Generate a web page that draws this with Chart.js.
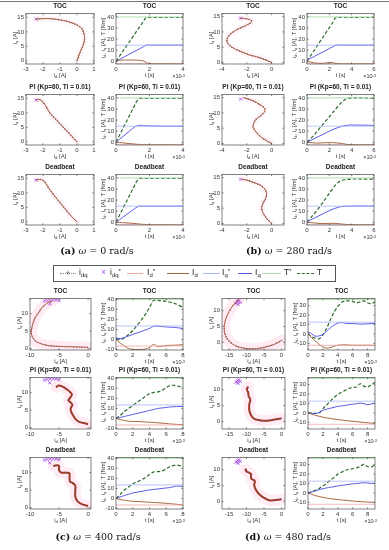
<!DOCTYPE html>
<html><head><meta charset="utf-8">
<script src="https://cdn.jsdelivr.net/npm/chart.js@4.4.1/dist/chart.umd.min.js"></script>
<style>
body{margin:0;width:389px;height:550px;background:#fff;position:relative;overflow:hidden;font-family:"Liberation Sans",Arial,sans-serif;}
.abs{position:absolute;white-space:nowrap;line-height:1;}
.ttl{font-weight:bold;font-size:6.5px;color:#222;transform:translateX(-50%);}
.xl{font-size:6px;color:#333;transform:translateX(-50%);}
.yl{font-size:6px;color:#333;transform:translate(-50%,-50%) rotate(-90deg);}
.ex{font-size:5.5px;color:#333;transform:translateX(-100%);}
.cap{font-family:"DejaVu Serif","Liberation Serif",serif;font-size:9.5px;color:#111;transform:translateX(-50%);}
.lg{font-size:8.5px;color:#222;}
sub{font-size:70%;vertical-align:-0.35em;line-height:0;}
sup{font-size:70%;vertical-align:0.3em;line-height:0;}
</style></head>
<body>
<script>
// ===== (a) omega = 0 rad/s =====
const a_TOC_id = [0, 0.15, 0.3, 0.42, 0.45, 0.4, 0.3, 0.1, -0.25, -0.7, -1.2, -1.7, -2.2, -2.4];
const a_TOC_iq = [0, 2.5, 4.5, 6.5, 8, 9.5, 11, 12, 13, 13.8, 14.3, 14.6, 14.5, 14.4];
const a_TOC_t  = [0, 0.2, 0.5, 0.8, 1.1, 1.4, 1.65, 1.8, 2, 3, 4];
const a_TOC_T  = [0, 4.4, 11, 17.6, 24.2, 30.8, 36.3, 39.5, 39.5, 39.5, 39.5];
const a_TOC_Iq = [0, 1.6, 4, 6.4, 8.8, 11.2, 13.2, 14.5, 14.5, 14.5, 14.5];
const a_TOC_Id = [0, 0.8, 1.1, 1.1, 1.0, 0.8, 0.2, -1.2, -2.2, -2.4, -2.4];
const a_PI_id  = [0, -0.4, -0.8, -1.2, -1.6, -1.85, -2.1, -2.3, -2.4];
const a_PI_iq  = [0, 2.5, 5, 7.5, 10, 12.5, 14.3, 14.7, 14.5];
const a_PI_t   = [0, 0.2, 0.4, 0.6, 0.8, 1.0, 1.2, 1.4, 1.6, 2, 3, 4];
const a_PI_T   = [0, 6, 12, 18, 24, 30, 36, 39.5, 39.5, 39.5, 39.5, 39.5];
const a_PI_Iq  = [0, 2.5, 5, 7.5, 10, 12.5, 14.5, 15.3, 15, 14.7, 14.5, 14.5];
const a_PI_Id  = [0, -0.3, -0.6, -0.9, -1.2, -1.5, -1.8, -2, -2.2, -2.35, -2.4, -2.4];
const a_DB_id  = [0, -0.35, -0.7, -1.05, -1.4, -1.7, -1.9, -2.1, -2.4];
const a_DB_iq  = [0, 2, 4.5, 7, 9.5, 12, 13.8, 14.6, 14.5];
const a_DB_t   = [0, 0.2, 0.4, 0.6, 0.8, 1.0, 1.2, 1.4, 1.6, 2, 3, 4];
const a_DB_T   = [0, 6, 12, 18, 24, 30, 36, 39.5, 39.5, 39.5, 39.5, 39.5];
const a_DB_Iq  = [0, 2.2, 4.4, 6.6, 8.8, 11, 13.2, 14.5, 14.5, 14.5, 14.5, 14.5];
const a_DB_Id  = [0, -0.2, -0.4, -0.6, -0.8, -1.0, -1.3, -1.6, -1.9, -2.2, -2.4, -2.4];
const a_refId = [-2.4], a_refIq = [14.4];
const a_IdRef = -2.4, a_IqRef = 14.5, a_TRef = 40;

// ===== (b) omega = 280 rad/s =====
const b_TOC_id = [0, -0.9, -1.8, -2.6, -3.2, -3.55, -3.6, -3.4, -2.9, -2.3, -1.8, -1.6, -1.8, -2.2, -2.5];
const b_TOC_iq = [0, 1.5, 2.5, 3.8, 5, 6.3, 7.5, 9, 10.5, 11.7, 12.7, 13.5, 14.1, 14.4, 14.5];
const b_TOC_t  = [0, 0.3, 0.6, 1, 1.5, 2, 2.3, 2.6, 3, 4, 5, 6];
const b_TOC_T  = [0, 4.6, 9.1, 15.2, 22.8, 30.4, 35, 39.5, 39.5, 39.5, 39.5, 39.5];
const b_TOC_Iq = [1, 2.6, 4.1, 6.2, 8.8, 11.4, 13, 14.5, 14.5, 14.5, 14.5, 14.5];
const b_TOC_Id = [0, -0.8, -1.4, -1.8, -1.9, -1.0, -1.3, -2.0, -2.4, -2.4, -2.4, -2.4];
const b_PI_id  = [0, -0.8, -1.3, -1.5, -1.3, -0.9, -0.6, -0.55, -0.9, -1.5, -2.0, -2.3];
const b_PI_iq  = [0, 1.9, 4, 5.6, 7.7, 9, 10.2, 11.4, 12.6, 14, 14.7, 15];
const b_PI_t   = [0, 0.5, 1, 1.5, 2, 2.5, 3, 3.5, 4, 5, 6];
const b_PI_T   = [0, 5, 11, 17, 23, 29, 35, 39, 40, 40, 39.5];
const b_PI_Iq  = [0, 2.5, 5, 7.5, 10, 12.2, 14, 15.2, 15.5, 15.4, 15.2];
const b_PI_Id  = [0, -0.5, -0.8, -0.5, -0.3, -0.5, -1, -1.8, -2.2, -2.4, -2.4];
const b_DB_id  = [0, -0.3, -0.55, -0.75, -0.8, -0.7, -0.5, -0.4, -0.5, -0.9, -1.5, -2.0, -2.4];
const b_DB_iq  = [0, 1.2, 2.5, 4, 5.2, 6.5, 8, 9.5, 11, 12.5, 13.5, 14.2, 14.5];
const b_DB_t   = [0, 0.5, 1, 1.5, 2, 2.5, 3, 3.5, 4, 5, 6];
const b_DB_T   = [0, 6, 12, 19, 26, 33, 37.5, 38.5, 39, 39, 39];
const b_DB_Iq  = [0.5, 3, 5.5, 8, 10.5, 12.5, 14, 14.5, 14.6, 14.6, 14.6];
const b_DB_Id  = [0, -0.5, -1, -1.2, -1, -1, -1.5, -2, -2.2, -2.4, -2.4];
const b_refId = [-2.5], b_refIq = [14.5];
const b_IdRef = -2.5, b_IqRef = 14.5, b_TRef = 40;

// ===== (c) omega = 400 rad/s =====
const c_TOC_id = [0, -1.56, -3.24, -4.9, -6.6, -8, -9.1, -9.65, -9.8, -9.5, -9.1, -8.5, -8, -7.4, -6.9, -6.1];
const c_TOC_iq = [0.36, 0.45, 0.54, 0.63, 0.8, 1.34, 2.2, 3.6, 4.9, 7.1, 8.9, 10.3, 11.6, 12.5, 13.2, 13.6];
const c_TOC_t  = [0, 0.5, 1, 1.5, 2, 2.5, 3, 3.5, 4, 4.5, 5, 6, 7, 8];
const c_TOC_T  = [1, 0, 1.5, 5, 9, 14, 19, 25, 32, 39, 39, 38, 36, 32];
const c_TOC_Iq = [1.5, 1, 2, 3.5, 5, 6.5, 8, 9.5, 11, 13.3, 13.3, 12.5, 12, 11];
const c_TOC_Id = [0, -3.5, -6.5, -9, -10, -10, -10, -9.5, -8, -5, -7, -6, -5.7, -5.3];
const c_PI_id  = [0, -0.8, -1.7, -2.2, -2.6, -2.9, -3, -2.7, -3, -3.4, -3.1, -2.8, -3.3, -3.9, -4.5, -5.2, -5.5];
const c_PI_iq  = [1, 1.3, 1.8, 2.5, 3.5, 4.5, 5.5, 6.5, 7.2, 7.8, 8.5, 9.5, 10.5, 11.2, 11.8, 12, 11.5];
const c_PI_t   = [0, 0.5, 1, 1.5, 2, 2.5, 3, 3.5, 4, 4.5, 5, 5.5, 6, 6.5, 7, 7.5, 8];
const c_PI_T   = [0, 3, 7, 10, 13, 16, 19, 22, 25, 26, 26.5, 28, 31, 33, 33, 32, 31.5];
const c_PI_Iq  = [0, 1, 2, 3, 4, 5, 6, 7, 8, 9, 10, 10.5, 11, 11.5, 11.8, 12, 12];
const c_PI_Id  = [0, -1, -2, -2.7, -3, -3, -3.2, -3.5, -3.7, -4, -4.3, -4.7, -5, -5.5, -5.8, -6, -6.2];
const c_DB_id  = [0, -1, -1.8, -2.2, -2.2, -2.2, -2.7, -3.1, -3.2, -3.2, -3.8, -4.6, -5, -5, -5.4, -6];
const c_DB_iq  = [0.45, 0.9, 1.8, 3.1, 4.9, 6.25, 7.1, 7.4, 8.5, 9.8, 10, 10, 10.7, 11.9, 12.1, 11.9];
const c_DB_t   = [0, 0.5, 1, 1.5, 2, 2.5, 3, 3.5, 4, 4.5, 5, 5.5, 6, 6.5, 7, 7.5, 8];
const c_DB_T   = [0, 4, 8.5, 11.5, 14.5, 16.5, 18.5, 21, 24, 26.5, 26.8, 27.5, 29.5, 32, 33, 33, 32];
const c_DB_Iq  = [0, 1.5, 3, 4.2, 5.5, 6.3, 7, 7.8, 8.5, 9, 9.5, 10, 10.5, 11, 12, 12.5, 11.8];
const c_DB_Id  = [0, -1, -1.8, -2.3, -2.8, -3, -3.2, -3.5, -3.8, -4, -4.2, -4.5, -4.8, -5.2, -5.6, -6, -6.5];
const c_refId = [-7.5, -7, -6.5, -6, -5.5, -5, -6.6], c_refIq = [13.6, 13.8, 13.9, 14, 13.9, 13.7, 12.8];
const c_IdRef = -6.5, c_IqRef = 13.5, c_TRef = 40;

// ===== (d) omega = 480 rad/s =====
const d_TOC_id = [0.2, -2.25, -4.7, -7.2, -9.6, -12.1, -14, -15.5, -16.3, -16.3, -15.8, -15, -14, -12.8, -12.1];
const d_TOC_iq = [0.7, -0.7, -1.5, -2, -2, -1.5, -0.5, 1.1, 3.3, 5.7, 7.7, 9.7, 11.4, 13, 13.6];
const d_TOC_t  = [0, 0.5, 1, 1.5, 2, 2.5, 3, 3.5, 4, 4.5, 5, 5.5, 6, 6.5, 7, 7.5, 8, 8.5, 9];
const d_TOC_T  = [0, -3, -4.5, -5, -1, 6, 15, 23, 29, 33.5, 35, 35, 34.5, 33, 34, 35, 33, 32, 34];
const d_TOC_Iq = [2.5, 0, -2.4, -2, -0.5, 3, 6.5, 9.5, 11.5, 12, 11.5, 11, 11, 10.8, 10.5, 10.5, 10.8, 11, 11.2];
const d_TOC_Id = [0, -4, -7.5, -11, -13.8, -15, -14.5, -13, -12, -11.5, -11.5, -11.8, -12, -12, -12, -12, -12, -12, -12];
const d_PI_id  = [0, -2, -4.2, -6, -7.8, -8.7, -9.2, -9.2, -8.9, -9.4, -9.5, -9.9, -9.5];
const d_PI_iq  = [0.95, 0.57, 0.2, 0.3, 0.76, 1.9, 3.5, 5.4, 6.9, 8, 9, 10.2, 10.9];
const d_PI_t   = [0, 0.5, 1, 1.5, 2, 2.5, 3, 3.5, 4, 4.5, 5, 5.5, 6, 6.5, 7, 7.5, 8, 8.5, 9];
const d_PI_T   = [0, 0, -0.5, 0, 4.6, 8.5, 12.5, 16.5, 19.5, 22, 24, 26, 27, 27.5, 31, 28.5, 27.5, 30, 32.6];
const d_PI_Iq  = [0, -0.5, -0.7, 0.5, 2.8, 4, 5, 6, 7, 7.5, 8, 8.8, 9.3, 9.8, 10.5, 9.8, 8.8, 9.5, 10.5];
const d_PI_Id  = [0, -1.3, -2.5, -3.5, -4.5, -5.2, -5.8, -6.5, -7, -7.5, -8, -8.4, -8.8, -9.2, -9.6, -10, -10.4, -10.8, -11.2];
const d_DB_id  = [0, -3.3, -5.1, -6.5, -7.4, -7.8, -7.6, -8.3, -8.7, -8.7, -9.2, -9.6, -10.1, -10.1, -10.5];
const d_DB_iq  = [0.67, 0.3, 1.2, 2.4, 3.8, 5.2, 6.4, 6.9, 7.3, 8.6, 9, 9.2, 9.5, 10, 10];
const d_DB_t   = [0, 0.5, 1, 1.5, 2, 2.5, 3, 3.5, 4, 4.5, 5, 5.5, 6, 6.5, 7, 7.5, 8, 8.5, 9];
const d_DB_T   = [0, 1.3, 3, 4.8, 7.5, 10.3, 13.5, 16.5, 20, 22, 24, 25, 25.7, 26.5, 28, 30.4, 28, 27.5, 30.4];
const d_DB_Iq  = [0, 1, 2.2, 3.5, 4.5, 5.3, 6, 6.7, 7.5, 8, 8.5, 9.2, 9.7, 10, 10.5, 10.8, 10.6, 10.2, 10.3];
const d_DB_Id  = [0, -1.5, -2.8, -3.8, -4.7, -5.4, -6, -6.5, -7, -7.4, -7.8, -8.2, -8.6, -8.9, -9.2, -9.4, -9.6, -9.8, -10];
const d_refId = [-13, -12.6, -12.2, -11.8, -12.4], d_refIq = [12.3, 12.8, 13.1, 12.6, 12.0];
const d_IdRef = -12, d_IqRef = 12.5, d_TRef = 36.5;

// ===== axis ticks =====
const aL_xTicks = [-3, -2, -1, 0, 1], aL_yTicks = [0, 5, 10, 15];
const bL_xTicks = [-4, -2, 0], bL_yTicks = [0, 5, 10, 15];
const cL_xTicks = [-10, -5, 0], cL_yTicks = [0, 5, 10];
const dL_xTicks = [-15, -10, -5, 0], dL_yTicks = [0, 5, 10];
const aR_xTicks = [0, 2, 4], abR_yTicks = [0, 10, 20, 30, 40];
const bR_xTicks = [0, 2, 4, 6];
const cdR_xTicks = [0, 2, 4, 6, 8];
const cR_yTicks = [-10, 0, 10, 20, 30, 40], dR_yTicks = [-10, 0, 10, 20, 30];
const controllers = ['TOC', 'PI (Kp=60, Ti = 0.01)', 'Deadbeat'];
const captions = [['(a)', '0'], ['(b)', '280'], ['(c)', '400'], ['(d)', '480']];

// ===== drawing =====
const FONT = '"Liberation Sans", Arial, sans-serif';
const C = {Id:'#a8643f', IdRef:'#f3a7a7', Iq:'#5656e6', IqRef:'#a9b8f7', T:'#2f6b2f', TRef:'#a6dca6', ref:'#a64ee6'};
const Lw = 14, Rw = 6, Tp = 3, Bh = 10;

const boxPlugin = {id:'box', afterDraw(ch){
  const {ctx, chartArea:a, scales} = ch;
  ctx.save(); ctx.strokeStyle = '#4a4a4a'; ctx.lineWidth = 0.7;
  ctx.strokeRect(a.left, a.top, a.right - a.left, a.bottom - a.top);
  ctx.beginPath();
  scales.x.ticks.forEach(t => { const p = scales.x.getPixelForValue(t.value);
    ctx.moveTo(p, a.bottom); ctx.lineTo(p, a.bottom - 1.6); ctx.moveTo(p, a.top); ctx.lineTo(p, a.top + 1.6); });
  scales.y.ticks.forEach(t => { const p = scales.y.getPixelForValue(t.value);
    ctx.moveTo(a.left, p); ctx.lineTo(a.left + 1.6, p); ctx.moveTo(a.right, p); ctx.lineTo(a.right - 1.6, p); });
  ctx.stroke(); ctx.restore();
}};

function axis(min, max, ticks, dir){
  return {type:'linear', min, max,
    grid:{display:false, drawTicks:false}, border:{display:false},
    ticks:{font:{size:6, family:FONT}, color:'#333', padding:2, autoSkip:false, maxRotation:0, minRotation:0, callback:v => String(v)},
    afterBuildTicks: s => { s.ticks = ticks.map(v => ({value:v})); },
    afterFit: s => { if (dir === 'x') s.height = Bh; else s.width = Lw; }};
}
function pts(xs, ys){ return xs.map((v, i) => ({x:v, y:ys[i]})); }
function addDiv(html, x, y, cls){
  const d = document.createElement('div'); d.className = 'abs ' + cls; d.innerHTML = html;
  d.style.left = x + 'px'; d.style.top = y + 'px'; document.body.appendChild(d); return d;
}
function mkCanvas(box){
  const c = document.createElement('canvas');
  c.width = box.w + Lw + Rw; c.height = box.h + Tp + Bh;
  c.style.cssText = `position:absolute;left:${box.x - Lw}px;top:${box.y - Tp}px;width:${c.width}px;height:${c.height}px`;
  document.body.appendChild(c); return c;
}
function baseOpts(xs, ys){
  return {responsive:false, animation:false, devicePixelRatio:1,
    layout:{padding:{left:0, right:Rw, top:Tp, bottom:0}},
    plugins:{legend:{display:false}, tooltip:{enabled:false}},
    elements:{point:{radius:0}, line:{tension:0.3}},
    scales:{x:axis(xs[0], xs[1], xs[2], 'x'), y:axis(ys[0], ys[1], ys[2], 'y')}};
}
function leftPlot(box, s, heavy, strongHalo){
  const tr = pts(s.id, s.iq);
  new Chart(mkCanvas(box), {type:'scatter', data:{datasets:[
    {data:tr, showLine:true, borderColor:strongHalo ? 'rgba(255,110,170,0.14)' : 'rgba(255,120,170,0.07)', borderWidth:strongHalo ? 11 : 6, borderCapStyle:'round', tension:0.3},
    {data:tr, showLine:true, borderColor:heavy ? '#8a3518' : C.Id, borderWidth:heavy ? 2 : 1, tension:0.3},
    {data:tr, showLine:true, borderColor:'#111', borderWidth:1.1, borderDash:[1, 1.8], tension:0.3},
    {data:pts(s.refId, s.refIq), showLine:false, pointStyle:'crossRot', pointRadius:2.2, borderColor:C.ref, borderWidth:0.9}
  ]}, options:baseOpts(s.lx, s.ly), plugins:[boxPlugin]});
  const cx = box.x + box.w / 2;
  addDiv('i<sub>d</sub> [A]', cx, box.y + box.h + 8, 'xl');
  addDiv('i<sub>q</sub> [A]', box.x - 11.5, box.y + box.h / 2, 'yl');
}
function rightPlot(box, s){
  const x0 = s.rx[0], x1 = s.rx[1];
  const hl = v => [{x:x0, y:v}, {x:x1, y:v}];
  new Chart(mkCanvas(box), {type:'scatter', data:{datasets:[
    {data:hl(s.IdRef), showLine:true, borderColor:C.IdRef, borderWidth:0.8, tension:0},
    {data:hl(s.IqRef), showLine:true, borderColor:C.IqRef, borderWidth:0.8, tension:0},
    {data:hl(s.TRef), showLine:true, borderColor:C.TRef, borderWidth:0.9, tension:0},
    {data:pts(s.t, s.Id), showLine:true, borderColor:C.Id, borderWidth:1, tension:0.3},
    {data:pts(s.t, s.Iq), showLine:true, borderColor:C.Iq, borderWidth:1, tension:0.3},
    {data:pts(s.t, s.T), showLine:true, borderColor:C.T, borderWidth:1.2, borderDash:[3.5, 2], tension:0.3}
  ]}, options:baseOpts(s.rx, s.ry), plugins:[boxPlugin]});
  const cx = box.x + box.w / 2;
  addDiv('t [s]', cx, box.y + box.h + 8, 'xl');
  addDiv('&times;10<sup>-3</sup>', box.x + box.w + 2, box.y + box.h + 9.5, 'ex');
  addDiv('i<sub>d</sub>, i<sub>q</sub> [A], T [Nm]', box.x - 13.5, box.y + box.h / 2, 'yl');
}

const panels = [
  {L:{x:26, w:68}, R:{x:116, w:67}, tops:[11, 92, 172], h:53, heavy:false, capY:246, capX:97,
   lx:[-3, 1, aL_xTicks], ly:[-1.1, 16.3, aL_yTicks], rx:[0, 4, aR_xTicks], ry:[-2.5, 43, abR_yTicks],
   refId:a_refId, refIq:a_refIq, IdRef:a_IdRef, IqRef:a_IqRef, TRef:a_TRef,
   rows:[[a_TOC_id, a_TOC_iq, a_TOC_t, a_TOC_Id, a_TOC_Iq, a_TOC_T],
         [a_PI_id, a_PI_iq, a_PI_t, a_PI_Id, a_PI_Iq, a_PI_T],
         [a_DB_id, a_DB_iq, a_DB_t, a_DB_Id, a_DB_Iq, a_DB_T]]},
  {L:{x:222, w:62}, R:{x:307, w:67}, tops:[11, 92, 172], h:53, heavy:false, capY:246, capX:289,
   lx:[-4, 1, bL_xTicks], ly:[-0.5, 16, bL_yTicks], rx:[0, 6, bR_xTicks], ry:[-2.5, 43, abR_yTicks],
   refId:b_refId, refIq:b_refIq, IdRef:b_IdRef, IqRef:b_IqRef, TRef:b_TRef,
   rows:[[b_TOC_id, b_TOC_iq, b_TOC_t, b_TOC_Id, b_TOC_Iq, b_TOC_T],
         [b_PI_id, b_PI_iq, b_PI_t, b_PI_Id, b_PI_Iq, b_PI_T],
         [b_DB_id, b_DB_iq, b_DB_t, b_DB_Id, b_DB_Iq, b_DB_T]]},
  {L:{x:30, w:61}, R:{x:116, w:67}, tops:[296, 375, 455], h:54, heavy:true, capY:532, capX:98,
   lx:[-10, 0.5, cL_xTicks], ly:[-0.4, 14.3, cL_yTicks], rx:[0, 8, cdR_xTicks], ry:[-10.5, 40.8, cR_yTicks],
   refId:c_refId, refIq:c_refIq, IdRef:c_IdRef, IqRef:c_IqRef, TRef:c_TRef,
   rows:[[c_TOC_id, c_TOC_iq, c_TOC_t, c_TOC_Id, c_TOC_Iq, c_TOC_T],
         [c_PI_id, c_PI_iq, c_PI_t, c_PI_Id, c_PI_Iq, c_PI_T],
         [c_DB_id, c_DB_iq, c_DB_t, c_DB_Id, c_DB_Iq, c_DB_T]]},
  {L:{x:222, w:63}, R:{x:308, w:67}, tops:[296, 375, 455], h:54, heavy:true, capY:532, capX:288,
   lx:[-17, 1, dL_xTicks], ly:[-2.4, 13.8, dL_yTicks], rx:[0, 9, cdR_xTicks], ry:[-17, 37.5, dR_yTicks],
   refId:d_refId, refIq:d_refIq, IdRef:d_IdRef, IqRef:d_IqRef, TRef:d_TRef,
   rows:[[d_TOC_id, d_TOC_iq, d_TOC_t, d_TOC_Id, d_TOC_Iq, d_TOC_T],
         [d_PI_id, d_PI_iq, d_PI_t, d_PI_Id, d_PI_Iq, d_PI_T],
         [d_DB_id, d_DB_iq, d_DB_t, d_DB_Id, d_DB_Iq, d_DB_T]]}
];

// top rule
addDiv('', 0, 0.5, '').style.cssText += 'width:389px;height:1.6px;background:#777;';

panels.forEach((p, pi) => {
  p.rows.forEach((r, ri) => {
    const y = p.tops[ri];
    const lb = {x:p.L.x, y, w:p.L.w, h:p.h}, rb = {x:p.R.x, y, w:p.R.w, h:p.h};
    leftPlot(lb, {id:r[0], iq:r[1], refId:p.refId, refIq:p.refIq, lx:p.lx, ly:p.ly}, p.heavy && ri > 0, p.heavy);
    rightPlot(rb, {t:r[2], Id:r[3], Iq:r[4], T:r[5], IdRef:p.IdRef, IqRef:p.IqRef, TRef:p.TRef, rx:p.rx, ry:p.ry});
    addDiv(controllers[ri], lb.x + lb.w / 2, y - 8.5, 'ttl');
    addDiv(controllers[ri], rb.x + rb.w / 2, y - 8.5, 'ttl');
  });
  addDiv(`<b>${captions[pi][0]}</b> <i>ω</i> = ${captions[pi][1]} rad/s`, p.capX, p.capY, 'cap');
});

// legend
const lgBox = addDiv('', 53, 264.5, '');
lgBox.style.cssText += 'width:283px;height:17px;border:0.8px solid #555;box-sizing:border-box;';
function lgLine(x1, x2, style){ const d = addDiv('', x1, 273, ''); d.style.cssText += `width:${x2 - x1}px;height:0;border-top:${style};`; return d; }
function lgText(html, x){ const d = addDiv(html, x, 268, 'lg'); return d; }
lgLine(60, 76, '1px dotted #888'); addDiv('+', 65.5, 268.5, 'lg').style.color = '#666';
lgText('i<sub>dq</sub>', 79);
addDiv('&times;', 101, 267.5, 'lg').style.color = C.ref;
lgText('i<sub>dq</sub><sup>*</sup>', 110);
lgLine(127, 143, '1px solid ' + C.IdRef); lgText('I<sub>d</sub><sup>*</sup>', 147);
lgLine(167, 189, '1.2px solid ' + C.Id); lgText('I<sub>d</sub>', 192);
lgLine(203, 220, '1px solid ' + C.IqRef); lgText('I<sub>q</sub><sup>*</sup>', 222);
lgLine(238, 252, '1.2px solid ' + C.Iq); lgText('I<sub>q</sub>', 255);
lgLine(262, 281, '1px solid ' + C.TRef); lgText('T<sup>*</sup>', 284);
lgLine(297, 314, '1.4px dashed ' + C.T); lgText('T', 317);
</script>
</body></html>
